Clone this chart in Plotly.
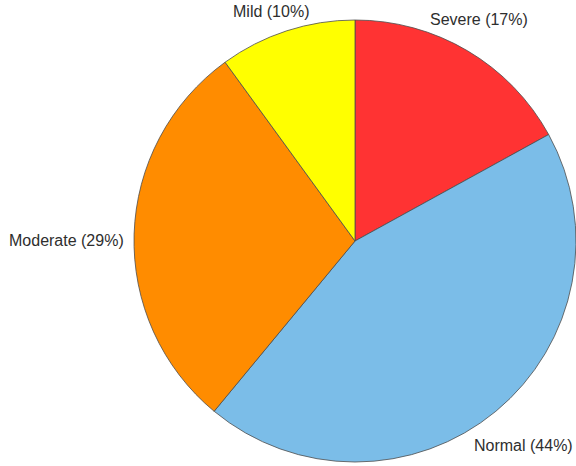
import plotly.graph_objects as go

# Severity distribution
categories = ["Severe", "Normal", "Moderate", "Mild"]
percentages = [17, 44, 29, 10]
slice_colors = ["#FF3333", "#7BBDE8", "#FF8C00", "#FFFF00"]

# Label anchor points (pixels from top-left of the 576x466 canvas)
label_px = {
    "Severe": (479, 19),
    "Normal": (523, 445),
    "Moderate": (66, 240),
    "Mild": (271, 12),
}

W, H = 576, 466
cx, cy, r = 355, 241, 221

fig = go.Figure(
    go.Pie(
        labels=categories,
        values=percentages,
        sort=False,
        direction="clockwise",
        rotation=0,
        marker=dict(colors=slice_colors, line=dict(color="#4d4d4d", width=0.8)),
        textinfo="none",
        hoverinfo="label+percent",
        showlegend=False,
        domain=dict(
            x=[(cx - r) / W, (cx + r) / W],
            y=[1 - (cy + r) / H, 1 - (cy - r) / H],
        ),
    )
)

for name, pct in zip(categories, percentages):
    px, py = label_px[name]
    fig.add_annotation(
        x=px / W,
        y=1 - py / H,
        xref="paper",
        yref="paper",
        text=f"{name} ({pct}%)",
        showarrow=False,
        xanchor="center",
        yanchor="middle",
        font=dict(family="Liberation Sans, Arial, sans-serif", size=16, color="#2e2e2e"),
    )

fig.update_layout(
    margin=dict(l=0, r=0, t=0, b=0),
    paper_bgcolor="white",
    plot_bgcolor="white",
)

fig.write_html("out.html")
